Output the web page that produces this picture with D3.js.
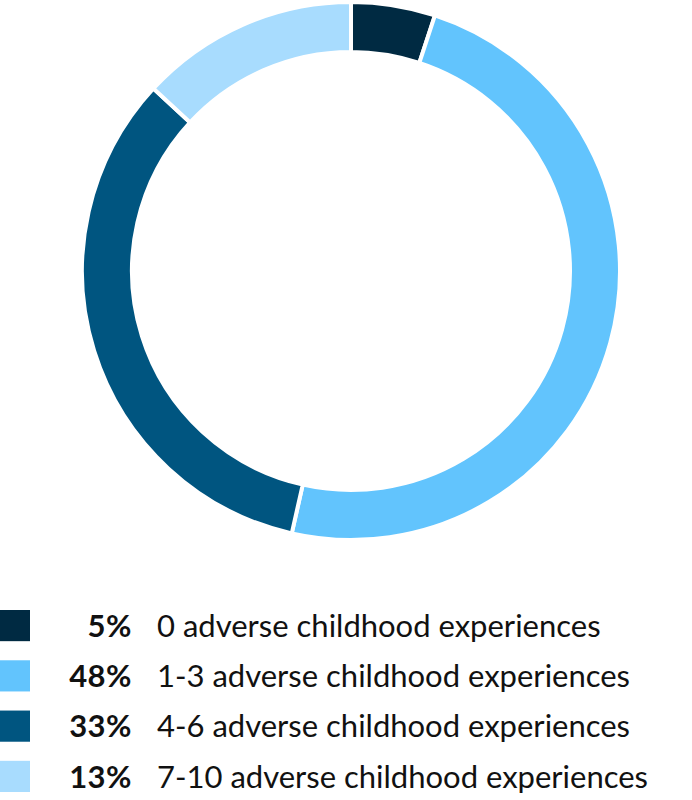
<!DOCTYPE html>
<html>
<head>
<meta charset="utf-8">
<script src="https://cdn.jsdelivr.net/npm/d3@7"></script>
<style>
  body { margin: 0; background: #fff; }
  svg { display: block; font-family: Lato, "Open Sans", sans-serif; }
</style>
</head>
<body>
<div id="chart"></div>
<script>
var categories = ["0 adverse childhood experiences", "1-3 adverse childhood experiences",
                  "4-6 adverse childhood experiences", "7-10 adverse childhood experiences"];
var shares = [5, 48, 33, 13];
var colors = ["#002a42", "#62c4fd", "#005580", "#a8dcfe"];

var W = 692, H = 800;
var CX = 351, CY = 271;
var OUTER = 269, INNER = 219;

var svg = d3.select("#chart").append("svg")
        .attr("width", W)
        .attr("height", H);

var pie = d3.pie().sort(null).value(function(d) { return d; });
var arc = d3.arc().innerRadius(INNER).outerRadius(OUTER);

svg.append("g")
        .attr("transform", "translate(" + CX + "," + CY + ")")
        .selectAll("path")
        .data(pie(shares))
        .enter().append("path")
        .attr("d", arc)
        .attr("fill", function(d, i) { return colors[i]; })
        .attr("stroke", "#fff")
        .attr("stroke-width", 4);

// legend
var y = d3.scaleBand().domain(d3.range(categories.length)).range([610, 792]).paddingInner(0.38).paddingOuter(0.0);

var rows = svg.append("g").selectAll("g")
        .data(categories)
        .enter().append("g")
        .attr("transform", function(d, i) { return "translate(0," + y(i) + ")"; });

rows.append("rect")
        .attr("x", 0)
        .attr("y", 0)
        .attr("width", 30)
        .attr("height", y.bandwidth())
        .attr("fill", function(d, i) { return colors[i]; });

rows.append("text")
        .attr("x", 132)
        .attr("y", y.bandwidth() / 2)
        .attr("dy", "0.36em")
        .attr("text-anchor", "end")
        .attr("font-weight", "bold")
        .attr("font-size", 31)
        .attr("letter-spacing", 0.5)
        .attr("fill", "#111")
        .text(function(d, i) { return shares[i] + "%"; });

rows.append("text")
        .attr("x", 157)
        .attr("y", y.bandwidth() / 2)
        .attr("dy", "0.36em")
        .attr("font-size", 31)
        .attr("fill", "#111")
        .text(function(d) { return d; });
</script>
</body>
</html>
